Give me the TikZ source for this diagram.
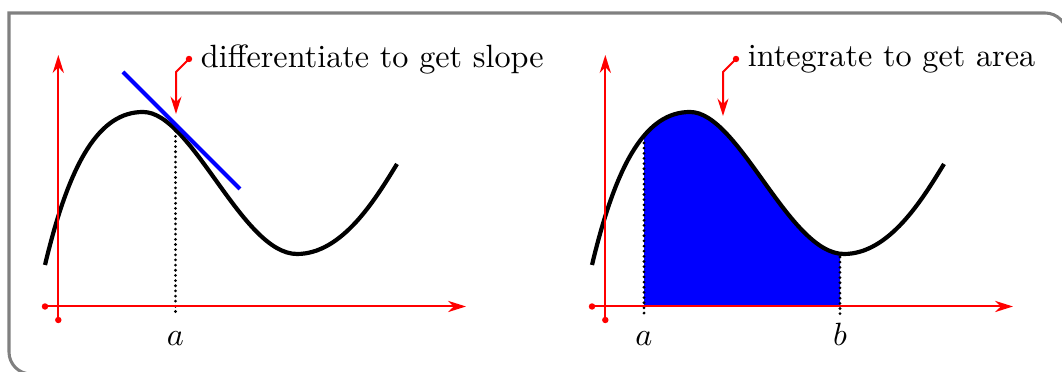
\documentclass[tikz,border=0pt]{standalone}
\usetikzlibrary{arrows.meta}
\begin{document}
\begin{tikzpicture}[x=0.3105pt,y=-0.3105pt,
  frame/.style={draw=black!50, line width=0.95pt},
  curve/.style={draw=black, line width=1.3pt},
  tangent/.style={draw=blue, line width=1.3pt},
  axis/.style={draw=red, line width=0.62pt, -{Stealth[length=5.6pt,width=3.5pt]}},
  ann/.style={draw=red, line width=0.62pt, -{Stealth[length=5.4pt,width=3.4pt]}},
  reddot/.style={circle, fill=red, inner sep=0pt, minimum size=2pt},
  guide/.style={draw=black, line width=0.95pt, line cap=round, dash pattern=on 0pt off 1.6pt},
  lbl/.style={anchor=base, inner sep=0pt},
  note/.style={anchor=west, inner sep=3.5pt}]
\useasboundingbox (0,0) rectangle (1062,372);
\begin{scope}
  \clip (0,0) rectangle (1062,372);
  \draw[frame] (1080,374) -- (31,374) arc[start angle=90, end angle=180, radius=22]
     -- (9,13) -- (1045,13) arc[start angle=-90, end angle=0, radius=22] -- (1067,400);
\end{scope}
\def\curvepath{(45,265) .. controls (70,160) and (100,112) .. (143,112) .. controls (192,112) and (242,254) .. (297,254) .. controls (342,254) and (375,200) .. (397,164)}
% ---------- left panel ----------
\draw[curve] \curvepath;
\coordinate (pa1) at (175.5,126);
\coordinate (qa1) at (175.5,316);
\draw[guide] (pa1) -- (qa1);
\node[reddot] (ox1) at (45,306.5) {};
\coordinate (xe1) at (466,306.5);
\draw[axis] (ox1.center) -- (xe1);
\node[reddot] (oy1) at (58.3,320) {};
\coordinate (ye1) at (58.3,55);
\draw[axis] (oy1.center) -- (ye1);
\coordinate (ts1) at (123,72);
\coordinate (te1) at (240,189);
\draw[tangent] (ts1) -- (te1);
\node[reddot] (d1) at (189,59) {};
\node[note] (t1) at (d1.center) {differentiate to get slope};
\coordinate (k1) at (176,72);
\coordinate (e1) at (176,114);
\draw[ann] (d1.center) -- (k1) -- (e1);
\node[lbl] (la1) at (175.5,346) {$a$};
% ---------- right panel ----------
\begin{scope}[shift={(547,0)}]
  \begin{scope}
    \clip (97,0) rectangle (293,306.5);
    \fill[blue] \curvepath -- (397,306.5) -- (45,306.5) -- cycle;
  \end{scope}
  \draw[curve] \curvepath;
  \coordinate (pa2) at (97,143);
  \coordinate (qa2) at (97,316);
  \draw[guide] (pa2) -- (qa2);
  \coordinate (pb2) at (293,257);
  \coordinate (qb2) at (293,316);
  \draw[guide] (pb2) -- (qb2);
  \node[reddot] (ox2) at (45,306.5) {};
  \coordinate (xe2) at (466,306.5);
  \draw[axis] (ox2.center) -- (xe2);
  \node[reddot] (oy2) at (58.3,320) {};
  \coordinate (ye2) at (58.3,55);
  \draw[axis] (oy2.center) -- (ye2);
  \node[reddot] (d2) at (189,59) {};
  \node[note] (t2) at (d2.center) {integrate to get area};
  \coordinate (k2) at (176,72);
  \coordinate (e2) at (176,116);
  \draw[ann] (d2.center) -- (k2) -- (e2);
  \node[lbl] (la2) at (97,346) {$a$};
  \node[lbl] (lb2) at (293,346) {$b$};
\end{scope}
\end{tikzpicture}
\end{document}
